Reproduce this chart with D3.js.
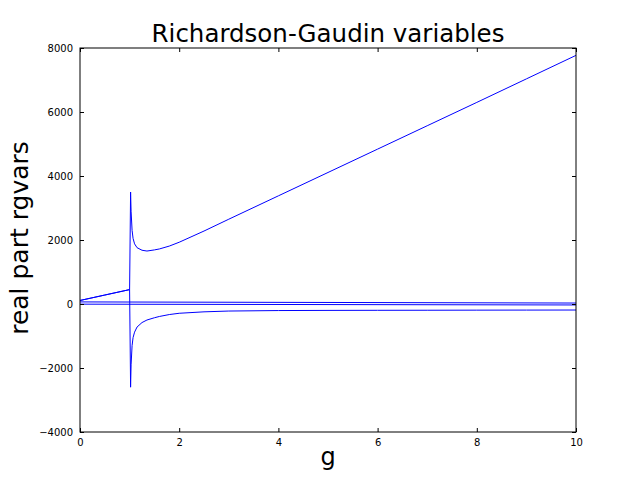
<!DOCTYPE html>
<html>
<head>
<meta charset="utf-8">
<script src="https://cdn.jsdelivr.net/npm/d3@7"></script>
<style>
  body { margin: 0; background: #fff; }
  text { font-family: "DejaVu Sans", sans-serif; }
</style>
</head>
<body>
<div id="main-diagram"></div>
<script>
// sample points along g
const gValues = [0, 0.5, 1.0, 1.02, 1.03, 1.05, 1.07, 1.1, 1.15, 1.25, 1.35, 1.5, 1.6, 1.8, 2.0, 2.5, 3, 4, 5, 6, 7, 8, 9, 10]

// the two branches that meet before g = 1 and split after
const upperBranch = [110, 280, 450, 3500, 2900, 2300, 2050, 1880, 1760, 1680, 1655, 1690, 1720, 1810, 1930, 2280, 2650, 3380, 4110, 4840, 5570, 6300, 7035, 7770]
const lowerBranch = [110, 280, 450, -2600, -1900, -1300, -1050, -880, -720, -580, -500, -430, -390, -330, -290, -245, -220, -205, -200, -197, -195, -192, -190, -188]

// two nearly flat variables
const flatG = [0, 5, 10]
const flatA = [65, 48, 30]
const flatB = [-5, -18, -30]

const xTicks = [0, 2, 4, 6, 8, 10]
const yTicks = [-4000, -2000, 0, 2000, 4000, 6000, 8000]

const width = 640
const height = 480
const margin = { top: 48, right: 64, bottom: 48, left: 80 }
const plotW = width - margin.left - margin.right
const plotH = height - margin.top - margin.bottom

const svg = d3.select('#main-diagram')
    .append('svg')
    .attr('width', width)
    .attr('height', height)

const x = d3.scaleLinear().domain([0, 10]).range([0, plotW])
const y = d3.scaleLinear().domain([-4000, 8000]).range([plotH, 0])

const g = svg.append('g')
    .attr('transform', `translate(${margin.left},${margin.top})`)

g.append('clipPath').attr('id', 'clip')
    .append('rect').attr('width', plotW).attr('height', plotH)

const line = d3.line()
    .x(d => x(d[0]))
    .y(d => y(d[1]))

const series = [
    d3.zip(gValues, upperBranch),
    d3.zip(gValues, lowerBranch),
    d3.zip(flatG, flatA),
    d3.zip(flatG, flatB)
]

g.append('g').attr('clip-path', 'url(#clip)')
    .selectAll('path')
    .data(series)
    .enter()
    .append('path')
    .attr('d', line)
    .attr('fill', 'none')
    .attr('stroke', '#0000ff')
    .attr('stroke-width', 1)

// axes, ticks pointing inward like matplotlib classic
function styleAxis(sel) {
    sel.select('.domain').remove()
    sel.selectAll('text').attr('font-size', 10).attr('fill', '#000')
    sel.selectAll('line').attr('stroke', '#000')
}

g.append('g')
    .attr('transform', `translate(0,${plotH})`)
    .call(d3.axisBottom(x).tickValues(xTicks).tickSize(-4).tickPadding(7).tickFormat(d3.format('d')))
    .call(styleAxis)

g.append('g')
    .call(d3.axisTop(x).tickValues(xTicks).tickSize(-4).tickFormat(''))
    .call(styleAxis)

g.append('g')
    .call(d3.axisLeft(y).tickValues(yTicks).tickSize(-4).tickPadding(7).tickFormat(d => d < 0 ? '\u2212' + Math.abs(d) : d))
    .call(styleAxis)

g.append('g')
    .attr('transform', `translate(${plotW},0)`)
    .call(d3.axisRight(y).tickValues(yTicks).tickSize(-4).tickFormat(''))
    .call(styleAxis)

g.append('rect')
    .attr('width', plotW)
    .attr('height', plotH)
    .attr('fill', 'none')
    .attr('stroke', '#000')
    .attr('stroke-width', 1)

svg.append('text')
    .attr('x', margin.left + plotW / 2)
    .attr('y', 42)
    .attr('text-anchor', 'middle')
    .attr('font-size', 24.5)
    .text('Richardson-Gaudin variables')

svg.append('text')
    .attr('x', margin.left + plotW / 2)
    .attr('y', 465)
    .attr('text-anchor', 'middle')
    .attr('font-size', 24)
    .text('g')

svg.append('text')
    .attr('transform', `translate(28,${margin.top + plotH / 2 - 2}) rotate(-90)`)
    .attr('text-anchor', 'middle')
    .attr('font-size', 25)
    .text('real part rgvars')
</script>
</body>
</html>
